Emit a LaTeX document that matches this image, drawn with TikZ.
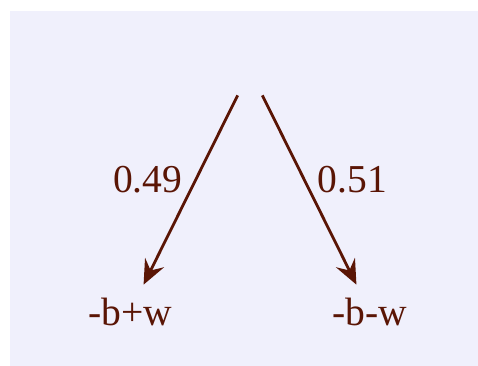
\documentclass[tikz,border=0pt]{standalone}
\usepackage{fontspec}
\setmainfont{Liberation Serif}
\usetikzlibrary{arrows.meta}
\definecolor{treeink}{HTML}{5A1505}
\definecolor{treebg}{HTML}{F0F0FC}

\begin{document}
\begin{tikzpicture}[every node/.style={text=treeink, font=\fontsize{22.5}{26}\selectfont},
  leaf/.style={inner sep=0pt, minimum height=1.08cm},
  branch/.style={draw=treeink, line width=1.6pt, -{Stealth[length=14pt, width=12pt, inset=5pt]}},
  prob/.style={inner sep=0pt}]
  \useasboundingbox (0,0) rectangle (9.56,7.3);
  \fill[treebg] (0.2,-0.1) rectangle (9.7,7.08);

  % root
  \node[inner sep=0pt, minimum width=0.48cm, minimum height=0.4cm] (root) at (5.0,5.6) {};

  % outcomes
  \node[leaf] (plus) at (2.6,1.06) {-b+w};
  \node[leaf] (minus) at (7.4,1.06) {-b-w};

  \draw[branch] (root.south west) -- node[prob, pos=0.445, left=0.24cm] {0.49} (plus);
  \draw[branch] (root.south east) -- node[prob, pos=0.445, right=0.24cm] {0.51} (minus);
\end{tikzpicture}
\end{document}
